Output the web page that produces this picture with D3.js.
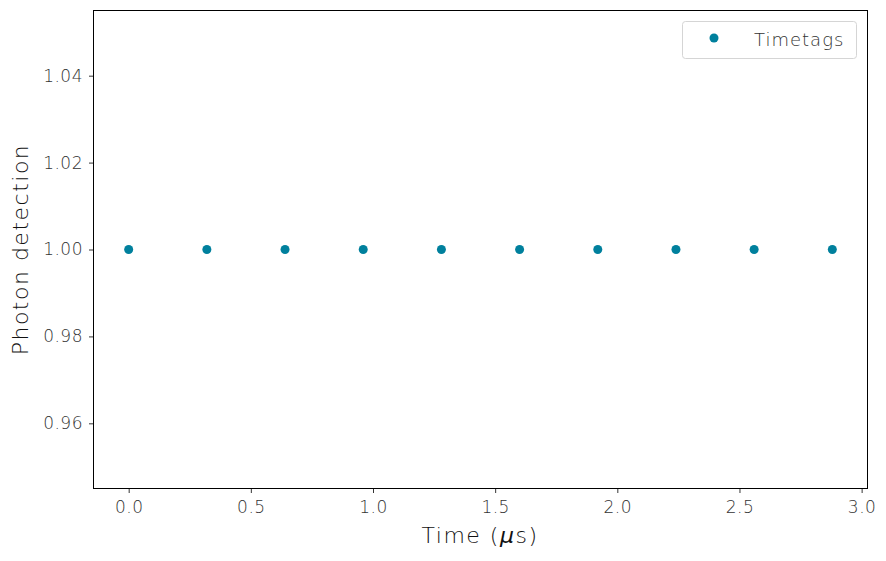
<!DOCTYPE html>
<html><head><meta charset="utf-8">
<script src="https://cdn.jsdelivr.net/npm/d3@7"></script>
<style>body{margin:0;background:#fff}svg{display:block}</style>
</head><body>
<svg id="c" width="886" height="561"></svg>
<script>
const timesUs = [0.0, 0.32, 0.64, 0.96, 1.28, 1.60, 1.92, 2.24, 2.56, 2.88];
const detections = [1, 1, 1, 1, 1, 1, 1, 1, 1, 1];
const xTicks = [0.0, 0.5, 1.0, 1.5, 2.0, 2.5, 3.0];
const yTicks = [0.96, 0.98, 1.00, 1.02, 1.04];
const seriesName = "Timetags";

const svg = d3.select("#c");
const m = {l:93.5, r:867.5, t:10.5, b:488.5};
const font = "'DejaVu Sans', sans-serif";
const x = d3.scaleLinear().domain([-0.144, 3.024]).range([m.l, m.r]);
const y = d3.scaleLinear().domain([0.945, 1.055]).range([m.b, m.t]);

const xa = svg.append("g").attr("transform", `translate(0,${m.b})`)
  .call(d3.axisBottom(x).tickValues(xTicks).tickFormat(d3.format(".1f")).tickSize(4.5).tickPadding(6));
const ya = svg.append("g").attr("transform", `translate(${m.l},0)`)
  .call(d3.axisLeft(y).tickValues(yTicks).tickFormat(d3.format(".2f")).tickSize(4.5).tickPadding(6));
[xa, ya].forEach(a => {
  a.select(".domain").remove();
  a.selectAll("line").attr("stroke", "#000").attr("stroke-width", 0.8);
  a.selectAll("text").attr("fill", "#333").style("font-family", font).style("font-size", "17px")
    .style("font-weight", 200).style("letter-spacing", "0.5px");
});
xa.selectAll("text").attr("dy", "0.85em");

svg.append("rect").attr("x", m.l).attr("y", m.t).attr("width", m.r - m.l).attr("height", m.b - m.t)
  .attr("fill", "none").attr("stroke", "#000").attr("stroke-width", 1);

svg.append("g").selectAll("circle").data(timesUs).join("circle")
  .attr("cx", d => x(d)).attr("cy", (d, i) => y(detections[i])).attr("r", 4.5).attr("fill", "#00809d");

svg.append("text").attr("x", 480).attr("y", 543).attr("text-anchor", "middle")
  .style("font-family", font).style("font-size", "22px").style("font-weight", 300)
  .style("letter-spacing", "1.5px").attr("fill", "#111")
  .html('Time (<tspan font-style="italic">μ</tspan>s)');
svg.append("text").attr("transform", `translate(28,${(m.t + m.b) / 2}) rotate(-90)`).attr("text-anchor", "middle")
  .style("font-family", font).style("font-size", "22px").style("font-weight", 300)
  .style("letter-spacing", "1.5px").attr("fill", "#111").text("Photon detection");

const lg = svg.append("g");
lg.append("rect").attr("x", 682.5).attr("y", 21.5).attr("width", 174).attr("height", 37).attr("rx", 3)
  .attr("fill", "#fff").attr("stroke", "#d5d5d5");
lg.append("circle").attr("cx", 714).attr("cy", 38).attr("r", 4.5).attr("fill", "#00809d");
lg.append("text").attr("x", 754).attr("y", 45.5).style("font-family", font).style("font-size", "18px")
  .style("font-weight", 200).style("letter-spacing", "1px").attr("fill", "#333").text(seriesName);
</script>
</body></html>
